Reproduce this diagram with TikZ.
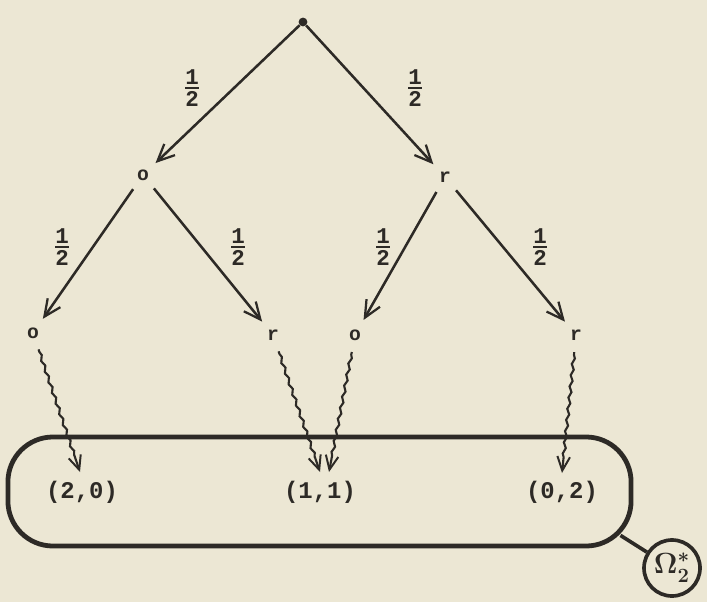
\documentclass[tikz,border=0pt]{standalone}
\usepackage{fontspec}
\setmonofont{Liberation Mono}
\usetikzlibrary{arrows.meta,decorations.pathmorphing,calc}
\definecolor{paper}{RGB}{236,231,212}
\definecolor{ink}{RGB}{45,42,38}
\begin{document}
\begin{tikzpicture}[x=0.025cm,y=-0.025cm,
  every node/.style={text=ink},
  letter/.style={circle,inner sep=0pt,minimum size=0.85cm,font=\fontsize{14}{16}\selectfont\ttfamily\bfseries},
  tuple/.style={inner sep=0pt,font=\fontsize{17}{20}\selectfont\ttfamily\bfseries},
  prob/.style={inner sep=0pt,font=\fontsize{16}{18}\selectfont\ttfamily\bfseries},
  branch/.style={draw=ink,line width=1.8pt,-{Straight Barb[length=12pt,width=11pt,line width=1.6pt]}},
  wavy/.style={draw=ink,line width=1.5pt,decorate,decoration={snake,amplitude=0.9pt,segment length=8pt,pre length=2pt,post length=10pt},-{Straight Barb[length=10pt,width=9pt,line width=1.4pt]}},
  outcomes/.style={draw=ink,line width=3.4pt,rounded corners=1.125cm,minimum width=15.575cm,minimum height=2.725cm,inner sep=0pt},
  omega/.style={draw=ink,circle,line width=2.6pt,minimum size=1.4cm,inner sep=0pt,font=\fontsize{21}{24}\selectfont\boldmath},
]
\fill[paper] (0,0) rectangle (707,602);
\useasboundingbox (0,0) rectangle (707,602);

% tree nodes
\node[circle,fill=ink,inner sep=0pt,minimum size=0.22cm] (root) at (303,22) {};
\node[letter] (o1) at (143,175) {o};
\node[letter] (r1) at (445,177) {r};
\node[letter] (o2a) at (33,333) {o};
\node[letter] (r2a) at (273,335) {r};
\node[letter] (o2b) at (355,335) {o};
\node[letter] (r2b) at (576,335) {r};

% probabilities
\node[prob] (p1) at (192,88) {$\mbox{1}\above 1.3pt\mbox{2}$};
\node[prob] (p2) at (415,88) {$\mbox{1}\above 1.3pt\mbox{2}$};
\node[prob] (p3) at (62,247) {$\mbox{1}\above 1.3pt\mbox{2}$};
\node[prob] (p4) at (238,247) {$\mbox{1}\above 1.3pt\mbox{2}$};
\node[prob] (p5) at (383,247) {$\mbox{1}\above 1.3pt\mbox{2}$};
\node[prob] (p6) at (540,247) {$\mbox{1}\above 1.3pt\mbox{2}$};

% branches
\draw[branch] (root) -- (o1);
\draw[branch] (root) -- (r1);
\draw[branch] (o1) -- (o2a);
\draw[branch] (o1) -- (r2a);
\draw[branch] (r1) -- (o2b);
\draw[branch] (r1) -- (r2b);

% outcome set
\node[outcomes] (box) at (319.5,491.5) {};
\node[tuple] (t20) at (82,492) {(2,0)};
\node[tuple] (t11) at (320,492) {(1,1)};
\node[tuple] (t02) at (562,492) {(0,2)};

\draw[wavy] (o2a) -- ($(t20)+(-2,-20)$);
\draw[wavy] (r2a) -- ($(t11)+(0,-20)$);
\draw[wavy] (o2b) -- ($(t11)+(9,-20)$);
\draw[wavy] (r2b) -- ($(t02)+(0,-19)$);

% Omega label
\node[omega] (om) at (672,568) {$\Omega^{*}_{2}$};
\coordinate (bc) at ($(box.south east)+(-13,-13)$);
\draw[ink,line width=2.6pt] (bc) -- (om);
\end{tikzpicture}
\end{document}
